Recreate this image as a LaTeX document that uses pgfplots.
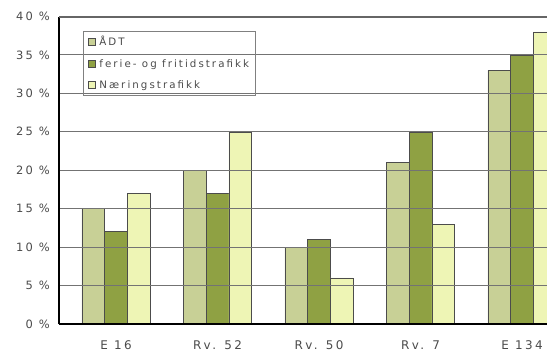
\documentclass[border=0pt]{standalone}
\usepackage{pgfplots}
\pgfplotsset{compat=1.18}
\usepackage{fontspec}
\setmainfont{DejaVu Sans}[LetterSpace=20]

\definecolor{adt}{HTML}{C8D096}
\definecolor{ferie}{HTML}{8FA143}
\definecolor{naering}{HTML}{EEF5B5}
\definecolor{labelgray}{HTML}{4A4A4A}

\begin{document}
\begin{tikzpicture}
\begin{axis}[
  name=ax,
  width=487.7bp, height=307.5bp, scale only axis,
  ybar=0pt, bar width=22.8bp,
  xmin=-0.5586, xmax=4.246,
  ymin=0, ymax=40,
  axis x line*=bottom, axis y line*=left,
  axis line style={-, black, line width=1.6bp},
  xtick={0,1,2,3,4},
  xticklabels={E 16, Rv. 52, Rv. 50, Rv. 7, E 134},
  ytick={0,5,...,35},
  yticklabels={0 \%, 5 \%, 10 \%, 15 \%, 20 \%, 25 \%, 30 \%, 35 \%},
  extra y ticks={40},
  extra y tick labels={40 \%},
  extra y tick style={grid style={black!60, line width=2bp}},
  ymajorgrids,
  grid style={black!55, line width=0.9bp},
  major tick length=0pt,
  tick label style={text=labelgray},
  xticklabel style={font=\fontsize{12}{14}\selectfont, yshift=-13bp},
  yticklabel style={font=\fontsize{11.5}{13}\selectfont, xshift=-6bp},
  axis on top,
  legend style={at={(0.0486,0.953)}, anchor=north west, fill=none,
    draw=black!50, line width=0.8bp, inner xsep=4bp, inner ysep=3bp,
    font=\fontsize{10.3}{12}\selectfont, text=labelgray,
    row sep=8bp, legend cell align=left},
  legend image code/.code={%
    \path[draw=none, fill=none] (0bp,0bp) rectangle (10bp,0.1bp);
    \draw[#1, draw=black!70, line width=0.7bp] (1bp,-3.5bp) rectangle (8bp,3.5bp);},
]
\addplot[fill=adt, draw=black!70, line width=0.6bp]
  coordinates {(0,15) (1,20) (2,10) (3,21) (4,33)};
\addplot[fill=ferie, draw=black!70, line width=0.6bp]
  coordinates {(0,12) (1,17) (2,11) (3,25) (4,35)};
\addplot[fill=naering, draw=black!70, line width=0.6bp]
  coordinates {(0,17) (1,25) (2,6) (3,13) (4,38)};
\legend{ÅDT, ferie- og fritidstrafikk, Næringstrafikk}
\end{axis}
\pgfresetboundingbox
\path[use as bounding box]
  ([xshift=-59.3bp,yshift=-32bp]ax.south west) rectangle ([yshift=16.5bp]ax.north east);
\end{tikzpicture}
\end{document}
